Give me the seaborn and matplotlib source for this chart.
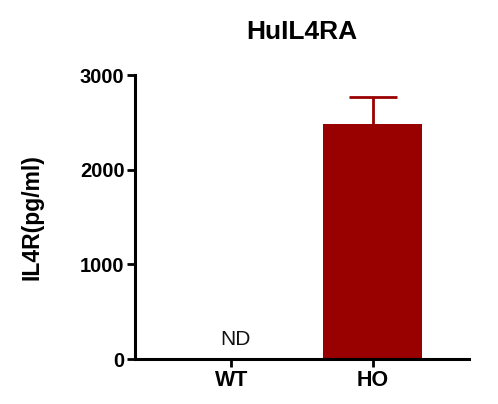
import matplotlib
matplotlib.use("Agg")
import matplotlib.pyplot as plt
import seaborn as sns

# ==============================
# Dados
# ==============================
groups = ["WT", "HO"]
means = [0, 2480]
sem_up = [0, 290]
nd_labels = ["ND", ""]
nd_y = 210

title = "HuIL4RA"
ylabel = "IL4R(pg/ml)"
yticks = [0, 1000, 2000, 3000]

bar_color = "#990000"

# ==============================
# Estilo
# ==============================
sns.set_theme(style="ticks")
plt.rcParams["font.family"] = ["Liberation Sans", "DejaVu Sans"]
plt.rcParams["text.color"] = "black"
plt.rcParams["axes.labelcolor"] = "black"
plt.rcParams["xtick.color"] = "black"
plt.rcParams["ytick.color"] = "black"

fig = plt.figure(figsize=(4.98, 4.04), dpi=100)
ax = fig.add_axes([0.271, 0.111, 0.671, 0.703])

sns.barplot(x=groups, y=means, color=bar_color, width=0.70, errorbar=None, ax=ax,
            saturation=1, linewidth=0)

# barra de erro só para cima
_, caps, _ = ax.errorbar(range(len(groups)), means, yerr=[[0] * len(groups), sem_up],
                         fmt="none", ecolor=bar_color, elinewidth=2, capsize=17, capthick=2)
caps[0].set_visible(False)

for i, txt in enumerate(nd_labels):
    if txt:
        ax.text(i + 0.03, nd_y, txt, ha="center", va="center", fontsize=15, color="#111111")

ax.set_xlim(-0.68, 1.68)
ax.set_ylim(0, 3000)
ax.set_yticks(yticks)
ax.set_yticklabels([str(t) for t in yticks], fontsize=14.5, fontweight="bold")
ax.set_xticks(range(len(groups)))
ax.set_xticklabels(groups, fontsize=15.5, fontweight="bold")

ax.set_title(title, fontsize=19, fontweight="bold", pad=26)
ax.set_ylabel(ylabel, fontsize=16.5, fontweight="bold", labelpad=26)
ax.set_xlabel("")

sns.despine(ax=ax)
for s in ["left", "bottom"]:
    ax.spines[s].set_linewidth(2.2)
    ax.spines[s].set_color("black")
ax.tick_params(axis="both", direction="out", length=5.5, width=2, color="black", pad=2)

fig.savefig("out.png", dpi=100)
